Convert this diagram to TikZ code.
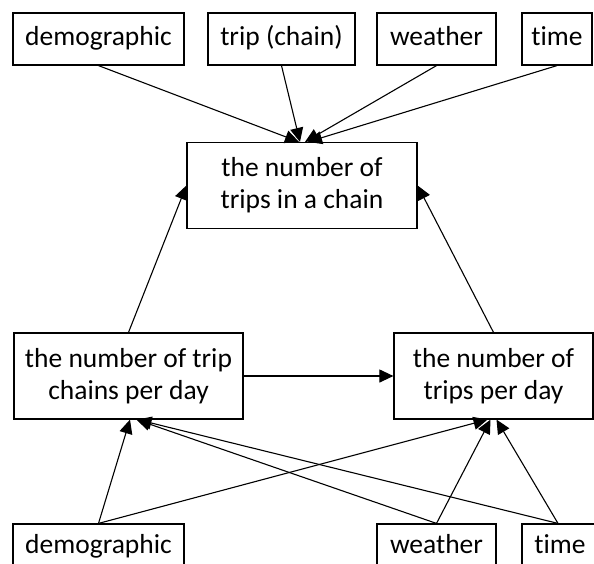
\documentclass[tikz,border=0pt]{standalone}
\usepackage{fontspec}
\setmainfont{Carlito}[Ligatures=NoCommon]
\usetikzlibrary{arrows.meta}

\begin{document}
\begin{tikzpicture}[x=1pt, y=-1pt,
    frame/.style={draw, rectangle, line width=1.2pt, align=center, inner sep=0pt,
      font=\fontsize{27.5}{32}\selectfont},
    box/.style={frame, minimum height=52pt, text height=19pt, text depth=6pt},
    lowbox/.style={box, minimum height=46pt},
    bigbox/.style={frame, minimum height=86pt},
    arr/.style={-{Triangle[length=14pt, width=13pt]}, line width=1.1pt}]
    \useasboundingbox (0,0) rectangle (594,563);
    \clip (0,0) rectangle (594,563);

    \node[box, minimum width=171pt] (tdemo) at (98.5,39) {demographic};
    \node[box, minimum width=147pt] (ttrip) at (281.5,39) {trip (chain)};
    \node[box, minimum width=119pt] (tweather) at (436.5,39) {weather};
    \node[box, minimum width=70pt] (ttime) at (557,39) {time};

    \node[bigbox, minimum width=230pt] (chain) at (302,185.5) {the number of\\trips in a chain};
    \node[bigbox, minimum width=229pt] (chains) at (128.5,376) {the number of trip\\chains per day};
    \node[bigbox, minimum width=199pt] (trips) at (493.5,376) {the number of\\trips per day};

    \node[lowbox, minimum width=171pt] (bdemo) at (98.5,547) {demographic};
    \node[lowbox, minimum width=119pt] (bweather) at (436.5,547) {weather};
    \node[lowbox, minimum width=76pt] (btime) at (560,547) {time};

    \draw[arr] (tdemo.south) -- ([xshift=-3pt]chain.north);
    \draw[arr] (ttrip.south) -- ([xshift=-2pt]chain.north);
    \draw[arr] (tweather.south) -- ([xshift=3pt]chain.north);
    \draw[arr] (ttime.south) -- ([xshift=6pt]chain.north);

    \draw[arr] (chains.north) -- (chain.west);
    \draw[arr] (trips.north) -- (chain.east);
    \draw[arr] (chains.east) -- (trips.west);

    \draw[arr] (bdemo.north) -- ([xshift=1.5pt]chains.south);
    \draw[arr] (bdemo.north) -- ([xshift=-6pt]trips.south);
    \draw[arr] (bweather.north) -- ([xshift=8pt]chains.south);
    \draw[arr] (bweather.north) -- ([xshift=-3pt]trips.south);
    \draw[arr] ([xshift=-2pt]btime.north) -- ([xshift=9pt]chains.south);
    \draw[arr] ([xshift=-2pt]btime.north) -- ([xshift=3pt]trips.south);
\end{tikzpicture}
\end{document}
